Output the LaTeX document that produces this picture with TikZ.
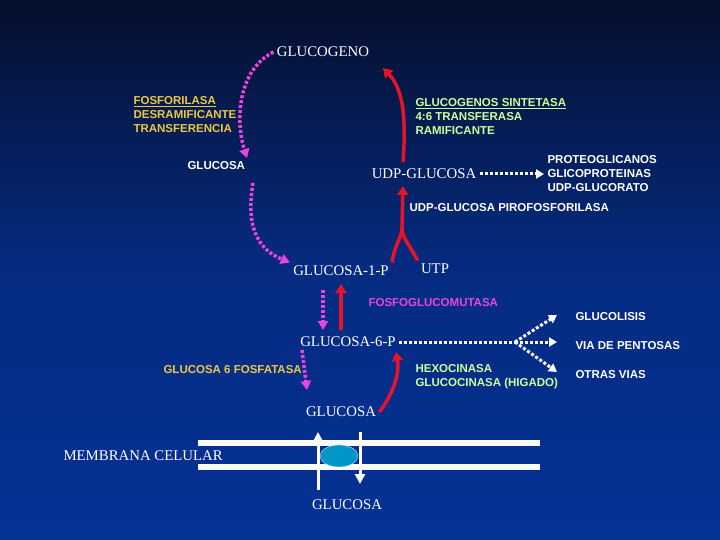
\documentclass[tikz,border=0pt]{standalone}
\usepackage{fontspec}
\setmainfont{Liberation Serif}
\setsansfont{Liberation Sans}
\usetikzlibrary{arrows.meta,shapes.geometric}
\definecolor{bgtop}{RGB}{5,15,45}
\definecolor{bgbot}{RGB}{5,50,150}
\definecolor{enzyel}{RGB}{235,200,70}
\definecolor{enzgreen}{RGB}{204,255,153}
\definecolor{magpath}{RGB}{230,70,220}
\definecolor{redpath}{RGB}{230,20,40}
\definecolor{carrier}{RGB}{0,150,200}
\tikzset{>=Triangle,
  met/.style={text=white,font=\fontsize{14.8}{15}\selectfont},
  lab/.style={font=\sffamily\bfseries\fontsize{11.5}{14}\selectfont,align=left,anchor=west},
  magdot/.style={magpath,line width=3.5pt,dash pattern=on 3pt off 2pt,->,
    >={Triangle[length=9pt,width=10pt]}},
  redarr/.style={redpath,line width=3.5pt,->,>={Triangle[length=9pt,width=11pt]}},
  whdot/.style={white,line width=3pt,dash pattern=on 3pt off 2pt,->,
    >={Triangle[length=8pt,width=9pt]}}}
\begin{document}
\begin{tikzpicture}[x=1pt,y=-1pt]
\shade[top color=bgtop,bottom color=bgbot,middle color=bgbot!80!bgtop] (0,0) rectangle (720,540);
\useasboundingbox (0,0) rectangle (720,540);

% metabolites
\node[met] (glucogeno) at (323,52) {GLUCOGENO};
\node[lab,text=white] (glucosaA) at (184,166) {GLUCOSA};
\node[met] (udpg) at (424,174) {UDP-GLUCOSA};
\node[met] (g1p) at (341,271) {GLUCOSA-1-P};
\node[met] (utp) at (435,269) {UTP};
\node[met] (g6p) at (348,342) {GLUCOSA-6-P};
\node[met] (glucosaB) at (341,412) {GLUCOSA};
\node[met] (glucosaC) at (347,505) {GLUCOSA};
\node[met,anchor=west] (membrana) at (60,456) {MEMBRANA CELULAR};

% enzymes
\node[lab,text=enzyel] (fosforilasa) at (130,115) {\underline{FOSFORILASA}\\DESRAMIFICANTE\\TRANSFERENCIA};
\node[lab,text=enzgreen] (sintetasa) at (412,117) {\underline{GLUCOGENOS SINTETASA}\\4:6 TRANSFERASA\\RAMIFICANTE};
\node[lab,text=white] (destinos) at (544,174) {PROTEOGLICANOS\\GLICOPROTEINAS\\UDP-GLUCORATO};
\node[lab,text=white] (pirofos) at (406,208) {UDP-GLUCOSA PIROFOSFORILASA};
\node[lab,text=magpath] (mutasa) at (365,303) {FOSFOGLUCOMUTASA};
\node[lab,text=white] (glucolisis) at (572,317) {GLUCOLISIS};
\node[lab,text=white] (pentosas) at (572,346) {VIA DE PENTOSAS};
\node[lab,text=white] (otras) at (572,375) {OTRAS VIAS};
\node[lab,text=enzyel] (fosfatasa) at (160,370) {GLUCOSA 6 FOSFATASA};
\node[lab,text=enzgreen] (hexo) at (412,377) {HEXOCINASA\\GLUCOCINASA (HIGADO)};

% membrane
\draw[white,line width=6pt] (198,443) -- (540,443);
\draw[white,line width=6pt] (198,467) -- (540,467);
\node[draw=white!80!carrier,fill=carrier,ellipse,minimum width=38pt,minimum height=22pt,
  inner sep=0pt] (carrier) at (339,456) {};
\draw[white,line width=3pt,->,>={Triangle[length=10pt,width=10pt]}] (318,490) -- (318,432);
\draw[white,line width=3pt,->,>={Triangle[length=10pt,width=10pt]}] (360,432) -- (360,484);

% degradation
\draw[magdot] (glucogeno.west) .. controls (238,70) and (235,120) .. (247,158);
\draw[magdot] (253,183) .. controls (245,230) and (260,250) .. (g1p.north west);
\draw[magdot] (323,290) -- (323,330);
\draw[magdot] (302,350) -- (307,390);

% synthesis
\coordinate (udptop) at (403,162);
\coordinate (udpbot) at (403,186);
\draw[redarr] (udptop) .. controls (406,120) and (404,90) .. (383,68);
\coordinate (junction) at (402,228);
\draw[redpath,line width=3.5pt] (g1p.north east) .. controls (394,245) and (402,238) .. (junction);
\draw[redpath,line width=3.5pt] (utp.north west) .. controls (410,245) and (402,238) .. (junction);
\draw[redarr] (junction) -- (udpbot);
\draw[redarr] (341,330) -- (341,284);
\draw[redarr] (glucosaB.east) .. controls (392,395) and (400,375) .. (396,352);

% other routes
\draw[whdot] (udpg.east) -- (destinos.west);
\coordinate (branch) at (515,342);
\draw[white,line width=3pt,dash pattern=on 3pt off 2pt] (g6p.east) -- (branch);
\draw[whdot] (branch) -- (557,315);
\draw[whdot] (branch) -- (557,342);
\draw[whdot] (branch) -- (557,372);
\end{tikzpicture}
\end{document}
